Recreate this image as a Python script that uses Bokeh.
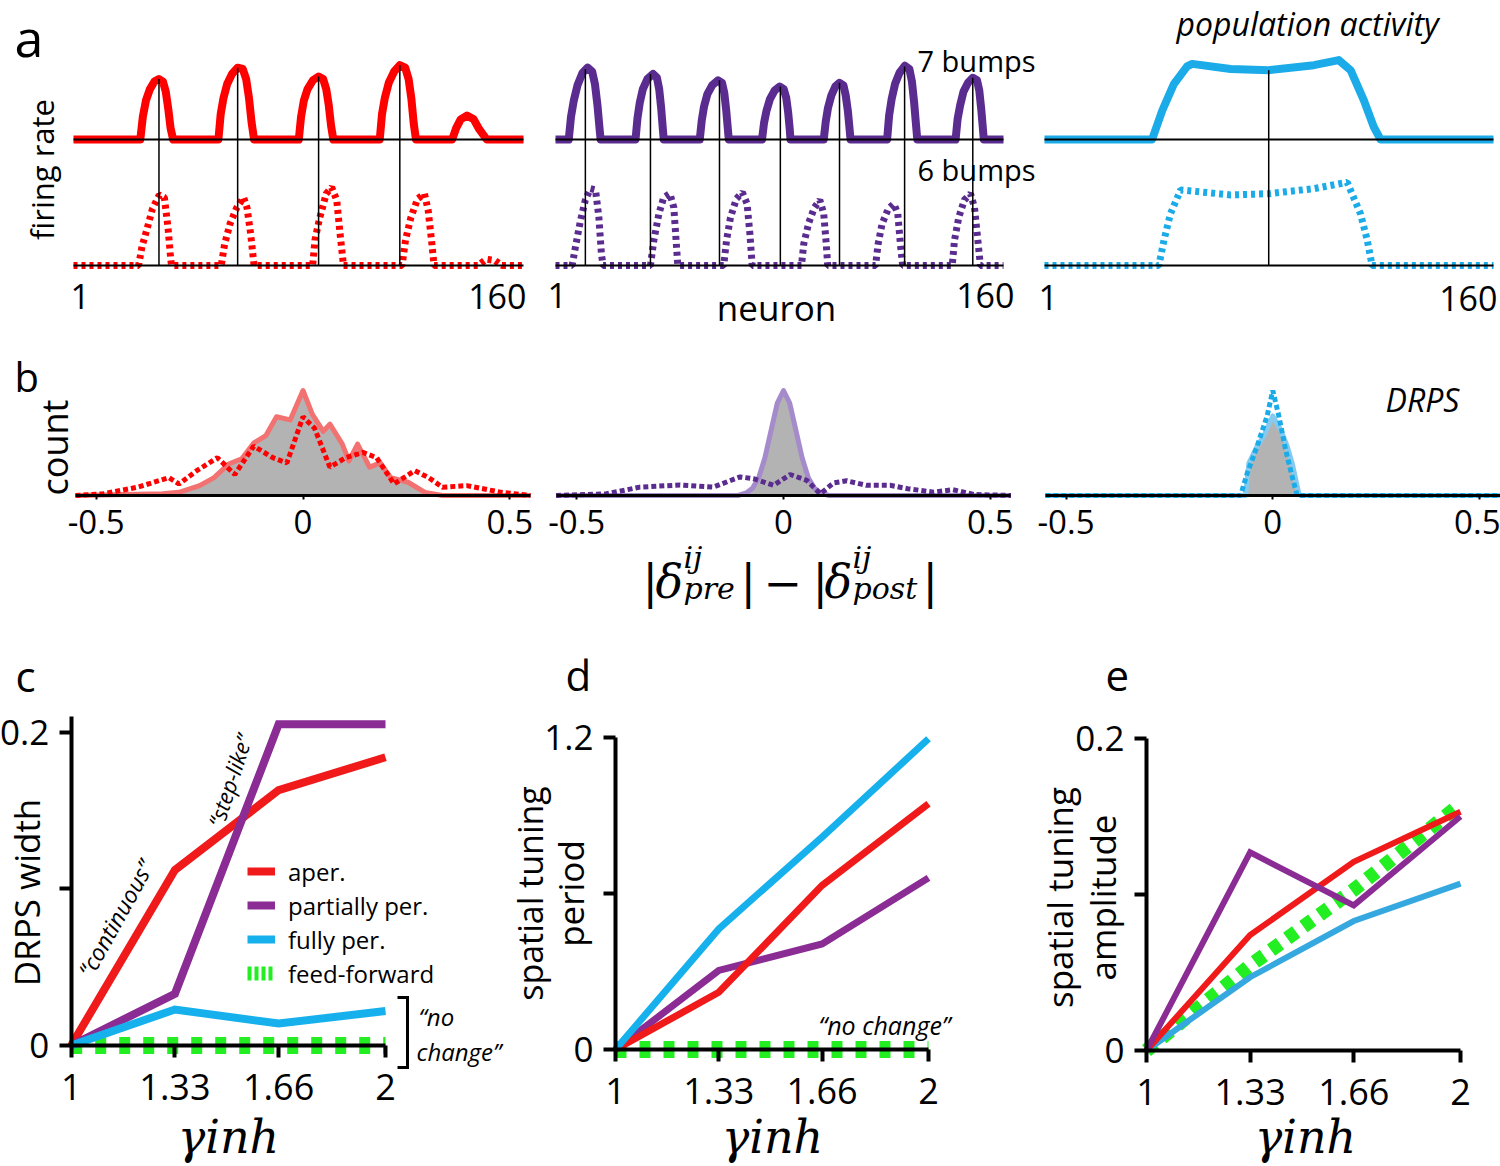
import math
from bokeh.plotting import figure
from bokeh.models import Range1d, LinearAxis, FixedTicker, Legend, LegendItem
from bokeh.layouts import row, column
from bokeh.embed import file_html
from bokeh.resources import INLINE
from bokeh.core.properties import value

# ======================= DATA =======================
# --- panel a: firing rate along the neuron index (solid = pre, dashed = post)
neuron_ends = [1, 160]
neuron_labels = ["1", "160"]

aper_pre_n = [1,
              24.6, 25.5, 26.6, 28.0, 29.6, 31.2, 32.6, 33.6, 34.5, 35.3, 36.2,
              52.2, 53.0, 54.0, 55.3, 57.0, 59.0, 60.8, 62.0, 63.0, 63.9, 64.8,
              80.6, 81.4, 82.4, 83.7, 85.6, 87.6, 89.2, 90.3, 91.2, 92.0, 92.8,
              109.2, 110.0, 111.0, 112.4, 114.3, 116.3, 118.2, 119.4, 120.4, 121.2, 122.0,
              134.8, 136.2, 137.8, 140.0, 142.4, 144.4, 147.0,
              160]
aper_pre_r = [0,
              0, 0.18, 0.31, 0.40, 0.46, 0.48, 0.46, 0.38, 0.24, 0.09, 0,
              0, 0.20, 0.33, 0.44, 0.52, 0.57, 0.56, 0.48, 0.33, 0.14, 0,
              0, 0.18, 0.31, 0.40, 0.47, 0.50, 0.48, 0.40, 0.27, 0.11, 0,
              0, 0.20, 0.33, 0.45, 0.54, 0.59, 0.57, 0.48, 0.32, 0.13, 0,
              0, 0.09, 0.16, 0.19, 0.16, 0.08, 0,
              0]
aper_post_n = [1, 24.0, 25.2, 27.1, 28.9, 31.3, 33.1, 34.4, 35.2, 35.6,
               53.2, 54.4, 56.3, 58.7, 61.1, 62.3, 63.6, 64.8,
               85.5, 86.3, 87.9, 90.3, 92.2, 94.0, 95.2, 96.4,
               117.1, 118.3, 120.2, 122.6, 125.0, 126.3, 127.5, 128.4,
               143.9, 146.9, 149.9, 152.4, 160]
aper_post_r = [0, 0, 0.15, 0.30, 0.45, 0.56, 0.54, 0.30, 0.09, 0,
               0, 0.17, 0.33, 0.46, 0.54, 0.46, 0.25, 0,
               0, 0.20, 0.37, 0.57, 0.62, 0.52, 0.25, 0,
               0, 0.20, 0.38, 0.53, 0.57, 0.44, 0.20, 0,
               0, 0.05, 0.04, 0, 0]
aper_peak_n = [31.2, 59.0, 87.6, 116.3]
aper_peak_r = [0.48, 0.57, 0.50, 0.59]

part_pre_n = [1,
              5.7, 6.5, 7.5, 8.8, 10.6, 12.4, 14.0, 15.0, 15.9, 16.5, 17.0,
              29.4, 30.1, 30.9, 32.0, 33.6, 35.6, 37.0, 37.8, 38.5, 39.0, 39.4,
              52.2, 52.9, 53.7, 54.9, 56.6, 58.7, 60.1, 60.9, 61.6, 62.1, 62.5,
              74.3, 75.0, 75.9, 77.1, 78.8, 80.6, 82.0, 82.9, 83.6, 84.1, 84.4,
              96.2, 96.9, 97.7, 98.9, 100.3, 101.8, 103.2, 104.0, 104.8, 105.3, 105.7,
              118.7, 119.4, 120.3, 121.5, 123.1, 125.0, 126.6, 127.5, 128.3, 128.9, 129.4,
              143.0, 143.7, 144.6, 145.8, 147.4, 149.1, 150.6, 151.4, 152.1, 152.6, 153.0,
              160]
part_pre_r = [0,
              0, 0.18, 0.31, 0.43, 0.53, 0.57, 0.54, 0.44, 0.27, 0.12, 0,
              0, 0.17, 0.29, 0.40, 0.48, 0.52, 0.49, 0.40, 0.25, 0.11, 0,
              0, 0.15, 0.26, 0.36, 0.43, 0.47, 0.45, 0.37, 0.23, 0.10, 0,
              0, 0.13, 0.23, 0.32, 0.39, 0.42, 0.40, 0.33, 0.21, 0.09, 0,
              0, 0.14, 0.25, 0.35, 0.42, 0.45, 0.43, 0.35, 0.22, 0.10, 0,
              0, 0.19, 0.32, 0.44, 0.53, 0.585, 0.56, 0.46, 0.29, 0.13, 0,
              0, 0.16, 0.27, 0.38, 0.45, 0.49, 0.47, 0.39, 0.24, 0.11, 0,
              0]
part_post_n = [1, 6.9, 8.1, 9.9, 11.6, 13.4, 15.2, 16.4, 17.3, 17.9,
               34.7, 35.9, 37.7, 39.4, 41.6, 43.0, 43.8, 44.4,
               60.7, 61.7, 63.1, 65.2, 67.3, 69.0, 70.0, 70.8,
               88.3, 89.1, 90.9, 92.9, 94.8, 96.2, 97.1, 97.6,
               114.6, 115.5, 116.9, 119.1, 121.1, 122.5, 123.4, 124.2,
               141.8, 142.6, 144.1, 146.1, 148.3, 149.7, 150.9, 151.8, 160]
part_post_r = [0, 0, 0.15, 0.36, 0.52, 0.61, 0.60, 0.38, 0.09, 0,
               0, 0.20, 0.41, 0.54, 0.57, 0.46, 0.20, 0,
               0, 0.20, 0.38, 0.53, 0.58, 0.49, 0.25, 0,
               0, 0.17, 0.34, 0.46, 0.52, 0.41, 0.17, 0,
               0, 0.17, 0.33, 0.45, 0.49, 0.41, 0.17, 0,
               0, 0.20, 0.38, 0.52, 0.57, 0.46, 0.20, 0, 0]
part_peak_n = [11.6, 34.7, 59.2, 80.8, 101.8, 124.9, 149.1]
part_peak_r = [0.56, 0.52, 0.47, 0.42, 0.45, 0.58, 0.49]

full_pre_n = [1, 39.1, 42.7, 46.8, 51.5, 53.3, 66.9, 80.4, 96.4, 105.2, 109.4, 114.1, 117.6, 120.0, 160]
full_pre_r = [0, 0, 0.23, 0.44, 0.58, 0.60, 0.56, 0.55, 0.59, 0.63, 0.55, 0.31, 0.10, 0, 0]
full_post_n = [1, 41.5, 43.3, 45.6, 49.2, 66.9, 80.4, 96.4, 108.2, 112.9, 115.3, 117.0, 160]
full_post_r = [0, 0, 0.20, 0.41, 0.60, 0.56, 0.57, 0.61, 0.66, 0.41, 0.20, 0, 0]
full_peak_n = [80.4]
full_peak_r = [0.55]

# --- panel b: DRPS distributions (filled = pre, dashed = post)
drps_ticks = [-0.5, 0, 0.5]
drps_tick_labels = ["-0.5", "0", "0.5"]
drps_bounds = [-0.55, 0.55]

aper_fill_x = [-0.55, -0.34, -0.30, -0.25, -0.215, -0.18, -0.148, -0.119, -0.09, -0.064, -0.031,
               0.0, 0.023, 0.049, 0.065, 0.095, 0.111, 0.132, 0.161, 0.187, 0.212, 0.254, 0.295, 0.337, 0.55]
aper_fill_y = [0, 0.016, 0.03, 0.094, 0.17, 0.30, 0.35, 0.50, 0.57, 0.75, 0.72,
               1.0, 0.77, 0.61, 0.68, 0.49, 0.33, 0.49, 0.27, 0.31, 0.17, 0.126, 0.03, 0, 0]
aper_dash_x = [-0.55, -0.483, -0.40, -0.324, -0.30, -0.257, -0.207, -0.165, -0.119, -0.073, -0.039,
               0.0, 0.028, 0.065, 0.103, 0.145, 0.178, 0.22, 0.27, 0.304, 0.337, 0.396, 0.48, 0.55]
aper_dash_y = [0, 0.016, 0.079, 0.17, 0.11, 0.236, 0.36, 0.2, 0.47, 0.36, 0.31,
               0.75, 0.64, 0.27, 0.36, 0.41, 0.36, 0.11, 0.236, 0.17, 0.079, 0.094, 0.03, 0]

part_fill_x = [-0.55, -0.11, -0.09, -0.075, -0.06, -0.045, -0.03, -0.015, 0.0,
               0.015, 0.03, 0.045, 0.06, 0.075, 0.09, 0.11, 0.55]
part_fill_y = [0, 0, 0.025, 0.07, 0.17, 0.36, 0.62, 0.88, 1.0,
               0.88, 0.62, 0.36, 0.17, 0.07, 0.025, 0, 0]
part_dash_x = [-0.55, -0.428, -0.347, -0.25, -0.17, -0.105, -0.073, -0.024, 0.016, 0.056,
               0.089, 0.121, 0.153, 0.20, 0.258, 0.30, 0.363, 0.41, 0.46, 0.55]
part_dash_y = [0, 0.016, 0.08, 0.10, 0.08, 0.177, 0.16, 0.097, 0.2, 0.145,
               0.016, 0.12, 0.14, 0.097, 0.097, 0.065, 0.032, 0.055, 0.01, 0]

full_fill_x = [-0.55, -0.066, -0.058, -0.038, -0.022, 0.0, 0.0186, 0.035, 0.047, 0.063, 0.067, 0.55]
full_fill_y = [0, 0, 0.306, 0.468, 0.565, 0.758, 0.629, 0.468, 0.306, 0.016, 0, 0]
full_dash_x = [-0.55, -0.078, -0.062, -0.038, -0.0137, 0.0, 0.0145, 0.031, 0.047, 0.059, 0.55]
full_dash_y = [0, 0, 0.21, 0.468, 0.758, 1.0, 0.758, 0.435, 0.177, 0, 0]

# --- panels c-e: summary vs gamma_inh
gamma = [1, 1.33, 1.66, 2]
gamma_labels = ["1", "1.33", "1.66", "2"]

c_aper = [0, 0.112, 0.163, 0.184]
c_part = [0, 0.033, 0.205, 0.205]
c_full = [0, 0.023, 0.014, 0.022]
c_ff = [0, 0, 0, 0]
c_yticks = [0, 0.1, 0.2]
c_ylabels = ["0", "", "0.2"]
c_ytop = 0.21

d_aper = [0, 0.22, 0.631, 0.945]
d_part = [0, 0.304, 0.406, 0.66]
d_full = [0, 0.464, 0.817, 1.195]
d_ff = [0, 0, 0, 0]
d_yticks = [0, 0.6, 1.2]
d_ylabels = ["0", "", "1.2"]
d_ytop = 1.2

e_aper = [0, 0.074, 0.121, 0.153]
e_part = [0, 0.127, 0.093, 0.150]
e_full = [0, 0.047, 0.083, 0.107]
e_ff = [0, 0.0545, 0.103, 0.158]
e_yticks = [0, 0.1, 0.2]
e_ylabels = ["0", "", "0.2"]
e_ytop = 0.2

legend_labels = ["aper.", "partially per.", "fully per.", "feed-forward"]

# ======================= STYLE =======================
FONT = "Open Sans"
SERIF = "DejaVu Serif"
RED = "#ff0000"
RED2 = "#f01a1a"
PURPLE_A = "#5b2c8f"
PURPLE_C = "#8a2c93"
BLUE_A = "#1aabe8"
BLUE_C = "#16b1ec"
BLUE_E = "#35a8df"
GREEN = "#22ee22"
GREY = "#b3b3b3"


def panel(L0, L1, T0, T1, xmap, ymap):
    pa, va, pb, vb = xmap
    qa, wa, qb, wb = ymap
    sx = (vb - va) / (pb - pa)
    sy = (wb - wa) / (qb - qa)
    fx = lambda px: va + (px - pa) * sx
    fy = lambda py: wa + (py - qa) * sy
    p = figure(width=L1 - L0, height=T1 - T0,
               x_range=Range1d(fx(L0), fx(L1)),
               y_range=Range1d(fy(T1), fy(T0)),
               output_backend="svg", toolbar_location=None, tools="",
               x_axis_location=None, y_axis_location=None,
               min_border=0, outline_line_color=None, title=None)
    for g in p.grid:
        g.visible = False
    return (p, fx, fy)


def txt(P, px, py, s, size, align="left", baseline="middle", angle=0,
        style="normal", font=FONT, color="black"):
    p, fx, fy = P
    p.text(x=[fx(px)], y=[fy(py)], text=[s], text_font=value(font),
           text_font_size=f"{size}px", text_align=align, text_baseline=baseline,
           angle=math.radians(angle), text_font_style=style, text_color=color)


def style_axis(a, size, lw, tick_out, tick_w, standoff):
    a.axis_line_width = lw
    a.axis_line_color = "black"
    a.major_tick_line_width = tick_w
    a.major_tick_line_color = "black"
    a.major_tick_out = tick_out
    a.major_tick_in = 0
    a.minor_tick_line_color = None
    a.major_label_text_font = FONT
    a.major_label_text_font_size = f"{size}px"
    a.major_label_text_color = "black"
    a.major_label_standoff = standoff


ROW_A = (0, 332)
ROW_B = (332, 630)
ROW_C = (630, 1166)


# ======================= ROW a =======================
def activity(L0, L1, x_first, x_last, pre_n, pre_r, post_n, post_r, pk_n, pk_r, color):
    P = panel(L0, L1, ROW_A[0], ROW_A[1], (x_first, neuron_ends[0], x_last, neuron_ends[1]), (265, 0, 139, 1))
    p = P[0]
    p.line(pre_n, [1 + r for r in pre_r], line_color=color, line_width=8, line_join="round")
    p.line(post_n, post_r, line_color=color, line_width=7, line_dash="4 4")
    p.segment(x0=pk_n, y0=[0] * len(pk_n), x1=pk_n, y1=[1 + r for r in pk_r],
              line_color="black", line_width=1.5)
    p.line(neuron_ends, [1, 1], line_color="black", line_width=2)
    p.line(neuron_ends, [0, 0], line_color="black", line_width=2)
    return P


A1 = activity(0, 540, 73, 523, aper_pre_n, aper_pre_r, aper_post_n, aper_post_r,
              aper_peak_n, aper_peak_r, RED)
txt(A1, 14, 36, "a", 52)
txt(A1, 41, 169, "firing rate", 31, align="center", angle=90)
txt(A1, 70, 296, neuron_labels[0], 34)
txt(A1, 526, 296, neuron_labels[1], 34, align="right")

A2 = activity(540, 1036, 555, 1003, part_pre_n, part_pre_r, part_post_n, part_post_r,
              part_peak_n, part_peak_r, PURPLE_A)
txt(A2, 547, 295, neuron_labels[0], 34)
txt(A2, 1014, 295, neuron_labels[1], 34, align="right")
txt(A2, 776, 307, "neuron", 35, align="center")
txt(A2, 917, 60, "7 bumps", 29)
txt(A2, 917, 169, "6 bumps", 29)

A3 = activity(1036, 1500, 1044, 1493, full_pre_n, full_pre_r, full_post_n, full_post_r,
              full_peak_n, full_peak_r, BLUE_A)
txt(A3, 1038, 297, neuron_labels[0], 34)
txt(A3, 1497, 298, neuron_labels[1], 34, align="right")
txt(A3, 1176, 23, "population activity", 32, style="italic")


# ======================= ROW b =======================
def drps(L0, L1, zero_px, fx_, fy_, dx_, dy_, light, dark):
    P = panel(L0, L1, ROW_B[0], ROW_B[1], (zero_px, 0, zero_px + 413.6, 1), (495, 0, 390, 1))
    p = P[0]
    p.varea(x=fx_, y1=[0] * len(fx_), y2=fy_, fill_color=GREY)
    p.line(fx_, fy_, line_color=light, line_width=5, line_join="round")
    p.line(dx_, dy_, line_color=dark, line_width=5, line_dash="5 3")
    ax = LinearAxis(fixed_location=0, ticker=FixedTicker(ticks=drps_ticks),
                    major_label_overrides=dict(zip(drps_ticks, drps_tick_labels)),
                    bounds=(drps_bounds[0], drps_bounds[1]))
    style_axis(ax, 33, 3, 4, 2, 10)
    p.add_layout(ax, "below")
    return P


B1 = drps(0, 540, 302.5, aper_fill_x, aper_fill_y, aper_dash_x, aper_dash_y, "#f27272", RED)
txt(B1, 14, 376, "b", 40)
txt(B1, 54, 447, "count", 36, align="center", angle=90)

B2 = drps(540, 1030, 783, part_fill_x, part_fill_y, part_dash_x, part_dash_y, "#a58bcb", PURPLE_A)
# x-axis title: |δ^ij_pre| − |δ^ij_post|
MAIN_Y, SUP_Y, SUB_Y = 581, 557, 588
txt(B2, 642, MAIN_Y, "|", 46, font=SERIF)
txt(B2, 655, MAIN_Y, "δ", 46, font=SERIF, style="italic")
txt(B2, 683, SUP_Y, "ij", 30, font=SERIF, style="italic")
txt(B2, 683, SUB_Y, "pre", 30, font=SERIF, style="italic")
txt(B2, 740, MAIN_Y, "|", 46, font=SERIF)
txt(B2, 763, MAIN_Y, "−", 46, font=SERIF)
txt(B2, 812, MAIN_Y, "|", 46, font=SERIF)
txt(B2, 824, MAIN_Y, "δ", 46, font=SERIF, style="italic")
txt(B2, 852, SUP_Y, "ij", 30, font=SERIF, style="italic")
txt(B2, 852, SUB_Y, "post", 30, font=SERIF, style="italic")
txt(B2, 922, MAIN_Y, "|", 46, font=SERIF)

B3 = drps(1030, 1500, 1272.3, full_fill_x, full_fill_y, full_dash_x, full_dash_y, "#86cbef", BLUE_A)
txt(B3, 1385, 399, "DRPS", 32, style="italic")


# ======================= ROW c-e =======================
def gamma_axes(p, yticks, ylabels, ytop):
    xa = LinearAxis(fixed_location=yticks[0], ticker=FixedTicker(ticks=gamma),
                    major_label_overrides=dict(zip(gamma, gamma_labels)),
                    bounds=(gamma[0], gamma[-1]))
    ya = LinearAxis(fixed_location=gamma[0], ticker=FixedTicker(ticks=yticks),
                    major_label_overrides=dict(zip(yticks, ylabels)),
                    bounds=(yticks[0], ytop))
    style_axis(xa, 36, 4, 12, 4, 16)
    style_axis(ya, 35, 4, 12, 4, 10)
    p.add_layout(xa, "below")
    p.add_layout(ya, "left")


# ---- c
C = panel(0, 504, ROW_C[0], ROW_C[1], (70.7, 1, 385, 2), (1045, 0, 731.7, 0.2))
pc, cfx, cfy = C
r_ff = pc.line(gamma, c_ff, line_color=GREEN, line_width=17, line_dash="11 13")
r_aper = pc.line(gamma, c_aper, line_color=RED2, line_width=8, line_join="miter")
r_part = pc.line(gamma, c_part, line_color=PURPLE_C, line_width=8, line_join="miter")
r_full = pc.line(gamma, c_full, line_color=BLUE_C, line_width=8, line_join="miter")
r_ff_key = pc.line(gamma[:1], c_ff[:1], line_color=GREEN, line_width=14, line_dash="4 3")
gamma_axes(pc, c_yticks, c_ylabels, c_ytop)
legend = Legend(items=[LegendItem(label=legend_labels[0], renderers=[r_aper]),
                       LegendItem(label=legend_labels[1], renderers=[r_part]),
                       LegendItem(label=legend_labels[2], renderers=[r_full]),
                       LegendItem(label=legend_labels[3], renderers=[r_ff_key])],
                location=(247, ROW_C[1] - 989.5),
                glyph_width=28, glyph_height=28, label_height=28, spacing=1,
                padding=0, margin=0, label_standoff=13,
                border_line_color=None, background_fill_alpha=0,
                label_text_font=FONT, label_text_font_size="24px",
                label_text_color="black")
pc.add_layout(legend)
pc.line([cfx(397), cfx(407), cfx(407), cfx(397)], [cfy(997), cfy(997), cfy(1067), cfy(1067)],
        line_color="black", line_width=3, line_join="miter")
txt(C, 15, 675, "c", 42)
txt(C, 25.5, 892, "DRPS width", 35, align="center", angle=90)
txt(C, 115, 918, "\u201ccontinuous\u201d", 23, align="center", angle=61, style="italic")
txt(C, 229, 780, "\u201cstep-like\u201d", 22, align="center", angle=72, style="italic")
txt(C, 418, 1016, "\u201cno", 24, style="italic")
txt(C, 416, 1051, "change\u201d", 24, style="italic")
txt(C, 228, 1136, "γinh", 46, align="center", font=SERIF, style="italic")

# ---- d
D = panel(504, 1010, ROW_C[0], ROW_C[1], (615, 1, 928, 2), (1049, 0, 737, 1.2))
pd_ = D[0]
pd_.line(gamma, d_ff, line_color=GREEN, line_width=17, line_dash="11 13")
pd_.line(gamma, d_part, line_color=PURPLE_C, line_width=7, line_join="miter")
pd_.line(gamma, d_aper, line_color=RED2, line_width=7, line_join="miter")
pd_.line(gamma, d_full, line_color=BLUE_C, line_width=7, line_join="miter")
gamma_axes(pd_, d_yticks, d_ylabels, d_ytop)
txt(D, 565, 674, "d", 42)
txt(D, 529, 893, "spatial tuning", 34, align="center", angle=90)
txt(D, 570, 893, "period", 35, align="center", angle=90)
txt(D, 818, 1024, "\u201cno change\u201d", 25, style="italic")
txt(D, 772, 1136, "γinh", 46, align="center", font=SERIF, style="italic")

# ---- e
E = panel(1010, 1500, ROW_C[0], ROW_C[1], (1146, 1, 1460, 2), (1050, 0, 738, 0.2))
pe = E[0]
pe.line(gamma, e_ff, line_color=GREEN, line_width=14, line_dash="11 9")
pe.line(gamma, e_full, line_color=BLUE_E, line_width=6, line_join="miter")
pe.line(gamma, e_aper, line_color=RED2, line_width=6, line_join="miter")
pe.line(gamma, e_part, line_color=PURPLE_C, line_width=6, line_join="miter")
gamma_axes(pe, e_yticks, e_ylabels, e_ytop)
txt(E, 1105, 675, "e", 42)
txt(E, 1059, 897, "spatial tuning", 35, align="center", angle=90)
txt(E, 1101.5, 897, "amplitude", 35, align="center", angle=90)
txt(E, 1305, 1136, "γinh", 46, align="center", font=SERIF, style="italic")

layout = column(row(A1[0], A2[0], A3[0]), row(B1[0], B2[0], B3[0]), row(C[0], D[0], E[0]))
open("out.html", "w").write(file_html(layout, INLINE, "figure"))
